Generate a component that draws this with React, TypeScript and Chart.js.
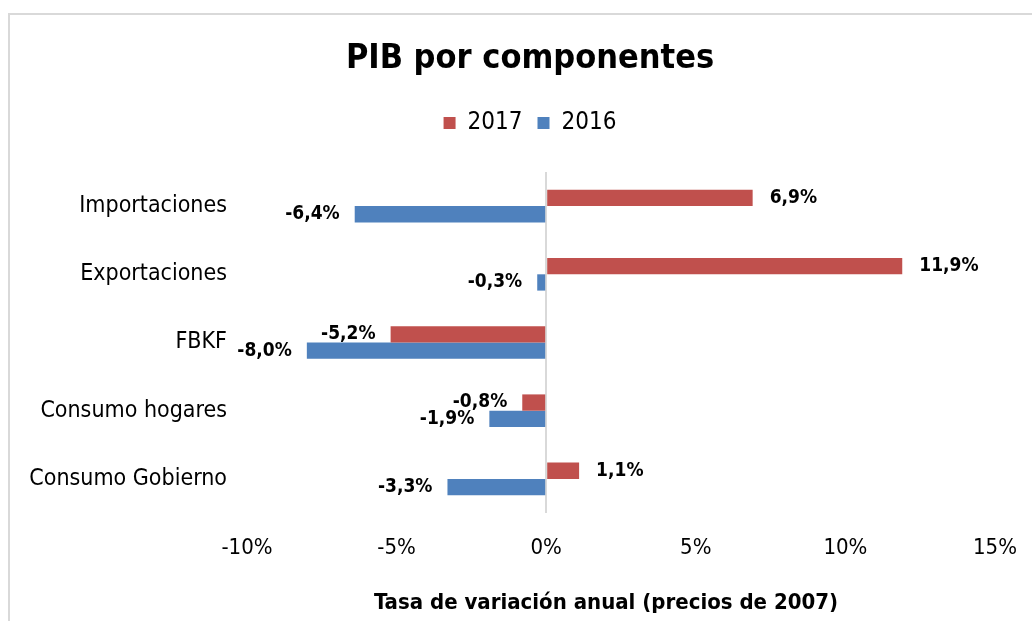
import React, { useEffect, useRef } from "react";
import { Chart, registerables } from "chart.js";

Chart.register(...registerables);

const categories = ["Importaciones", "Exportaciones", "FBKF", "Consumo hogares", "Consumo Gobierno"];
const values2017 = [6.9, 11.9, -5.2, -0.8, 1.1];
const values2016 = [-6.4, -0.3, -8.0, -1.9, -3.3];
const seriesNames = ["2017", "2016"];
const xTicks = [-10, -5, 0, 5, 10, 15];
const chartTitle = "PIB por componentes";
const axisTitle = "Tasa de variación anual (precios de 2007)";

const RED = "#C0504D";
const BLUE = "#4F81BD";
const FONT = "'DejaVu Sans Condensed', 'DejaVu Sans', sans-serif";

const fmt = (v: number) => v.toFixed(1).replace(".", ",") + "%";

const valueLabels = {
  id: "valueLabels",
  afterDatasetsDraw(chart: any) {
    const ctx = chart.ctx;
    ctx.save();
    ctx.font = `bold 19px ${FONT}`;
    ctx.fillStyle = "#000";
    ctx.textBaseline = "middle";
    chart.data.datasets.forEach((ds: any, i: number) => {
      const meta = chart.getDatasetMeta(i);
      meta.data.forEach((bar: any, j: number) => {
        const v = ds.data[j];
        const txt = fmt(v);
        if (v >= 0) {
          ctx.textAlign = "left";
          ctx.fillText(txt, bar.x + 17, bar.y);
        } else {
          ctx.textAlign = "right";
          ctx.fillText(txt, bar.x - 15, bar.y);
        }
      });
    });
    ctx.restore();
  },
};

const HEADER_SHIFT = 32.5;
const AXIS_TITLE_SHIFT = -15;

const headerLayout = {
  id: "headerLayout",
  afterInit(chart: any) {
    const legend = chart.legend;
    if (!legend) return;
    const orig = legend.fit;
    legend.fit = function () {
      orig.call(this);
      this.height += 27;
    };
  },
  afterLayout(chart: any) {
    [chart.titleBlock, chart.legend].forEach((b: any) => {
      if (b) {
        b.left += HEADER_SHIFT;
        b.right += HEADER_SHIFT;
      }
    });
    const x = chart.scales.x;
    if (x) {
      x.left += AXIS_TITLE_SHIFT;
      x.right += AXIS_TITLE_SHIFT;
    }
  },
};

export default function App() {
  const ref = useRef<HTMLCanvasElement>(null);
  useEffect(() => {
    document.body.style.margin = "0";
    const chart = new Chart(ref.current!, {
      type: "bar",
      data: {
        labels: categories,
        datasets: [
          { label: seriesNames[0], data: values2017, backgroundColor: RED, borderWidth: 0 },
          { label: seriesNames[1], data: values2016, backgroundColor: BLUE, borderWidth: 0 },
        ],
      },
      options: {
        indexAxis: "y",
        animation: false,
        responsive: false,
        categoryPercentage: 0.478,
        barPercentage: 1.0,
        layout: { padding: { left: 0, right: 37, top: 0, bottom: 0 } },
        plugins: {
          title: {
            display: true,
            text: chartTitle,
            color: "#000",
            font: { family: FONT, size: 34, weight: "bold" },
            padding: { top: 38.6, bottom: 16.6 },
          },
          legend: {
            display: true,
            position: "top",
            labels: {
              color: "#000",
              font: { family: FONT, size: 24 },
              boxWidth: 12,
              boxHeight: 12,
              padding: 15,
            },
          },
          tooltip: { enabled: false },
        },
        scales: {
          x: {
            type: "linear",
            min: xTicks[0],
            max: xTicks[xTicks.length - 1],
            afterBuildTicks: (scale: any) => {
              scale.ticks = xTicks.map((v) => ({ value: v }));
            },
            afterFit: (scale: any) => {
              scale.height = 108;
            },
            ticks: {
              color: "#000",
              font: { family: FONT, size: 22 },
              padding: 0,
              callback: (v: any) => `${v}%`,
            },
            grid: {
              drawTicks: true,
              tickLength: 21.8,
              tickColor: "rgba(0,0,0,0)",
              lineWidth: 2,
              color: (ctx: any) => (ctx.tick && ctx.tick.value === 0 ? "#d9d9d9" : "rgba(0,0,0,0)"),
            },
            border: { display: false },
            title: {
              display: true,
              text: axisTitle,
              color: "#000",
              font: { family: FONT, size: 22, weight: "bold" },
              padding: { top: 0, bottom: 4.8 },
            },
          },
          y: {
            afterFit: (scale: any) => {
              scale.width = 247;
            },
            ticks: {
              color: "#000",
              font: { family: FONT, size: 23 },
              padding: 20,
            },
            grid: { display: false, drawTicks: false },
            border: { display: false },
          },
        },
      },
      plugins: [valueLabels, headerLayout],
    } as any);
    return () => chart.destroy();
  }, []);

  return (
    <div style={{ position: "relative", width: 1032, height: 621, overflow: "hidden", background: "#fff" }}>
      <div
        style={{
          position: "absolute",
          left: 8,
          top: 13,
          width: 1200,
          height: 800,
          borderLeft: "2px solid #d9d9d9",
          borderTop: "2px solid #d9d9d9",
        }}
      />
      <canvas ref={ref} width={1032} height={621} style={{ position: "absolute", left: 0, top: 0 }} />
    </div>
  );
}
